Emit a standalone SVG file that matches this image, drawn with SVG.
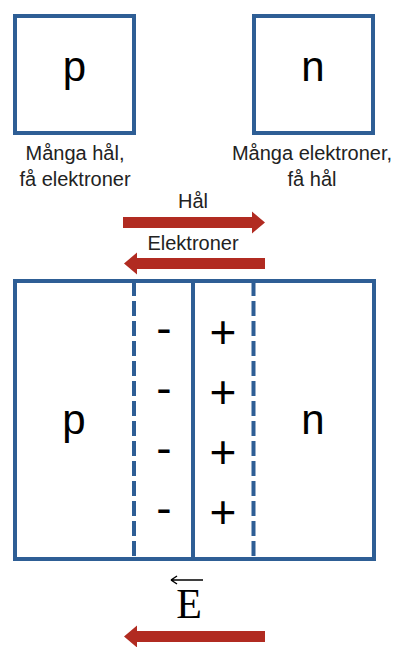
<svg xmlns="http://www.w3.org/2000/svg" width="394" height="647" viewBox="0 0 394 647">
<style>
.box{fill:#fff;stroke:#2E5E95;stroke-width:4}
.ln{stroke:#2E5E95;stroke-width:4;fill:none}
.dash{stroke-dasharray:15 5}
.big{font-family:"Liberation Sans",Arial,sans-serif;font-size:42px;fill:#000;text-anchor:middle}
.sign{font-family:"Liberation Sans",Arial,sans-serif;font-size:46px;fill:#000;text-anchor:middle}
.lbl{font-family:"Liberation Sans",Arial,sans-serif;font-size:20px;fill:#222;text-anchor:middle}
.arr{fill:#B12B21}
</style>
<rect width="394" height="647" fill="#fff"/>
<g id="p-top">
<rect class="box" x="15" y="16" width="119" height="117"/>
<text class="big" x="74.5" y="81">p</text>
<text class="lbl" x="75" y="159.5">Många hål,</text>
<text class="lbl" x="75" y="185.5">få elektroner</text>
</g>
<g id="n-top">
<rect class="box" x="254" y="16" width="119" height="117"/>
<text class="big" x="313" y="81">n</text>
<text class="lbl" x="312" y="159.5">Många elektroner,</text>
<text class="lbl" x="312" y="185.5">få hål</text>
</g>
<g id="connectors">
<path class="arr" d="M123,217 H252 V211.5 L265,222.5 L252,233.5 V228 H123 Z"/>
<text class="lbl" x="193" y="208">Hål</text>
<path class="arr" d="M265,258 H137 V252.5 L124,263.5 L137,274.5 V269 H265 Z"/>
<text class="lbl" x="193" y="250">Elektroner</text>
<path class="arr" d="M265,631 H137 V625.5 L124,636.5 L137,647.5 V642 H265 Z"/>
</g>
<g id="junction">
<rect class="box" x="15" y="281" width="359" height="278"/>
<line class="ln dash" x1="134" y1="281" x2="134" y2="559"/>
<line class="ln" x1="193" y1="281" x2="193" y2="559"/>
<line class="ln dash" x1="253.5" y1="281" x2="253.5" y2="559"/>
<text class="big" x="74" y="434">p</text>
<text class="big" x="313" y="434">n</text>
<text class="sign" x="164" y="344">-</text>
<text class="sign" x="164" y="404">-</text>
<text class="sign" x="164" y="464">-</text>
<text class="sign" x="164" y="524">-</text>
<text class="sign" x="223" y="347.5">+</text>
<text class="sign" x="223" y="407.5">+</text>
<text class="sign" x="223" y="467.5">+</text>
<text class="sign" x="223" y="527.5">+</text>
</g>
<g id="field">
<path d="M171,580 H203 M171,580 L177,576 M171,580 L177,584" stroke="#000" stroke-width="1.5" fill="none"/>
<text x="189" y="618" font-family="Liberation Serif,'Times New Roman',serif" font-size="42" text-anchor="middle" fill="#000">E</text>
</g>
</svg>
